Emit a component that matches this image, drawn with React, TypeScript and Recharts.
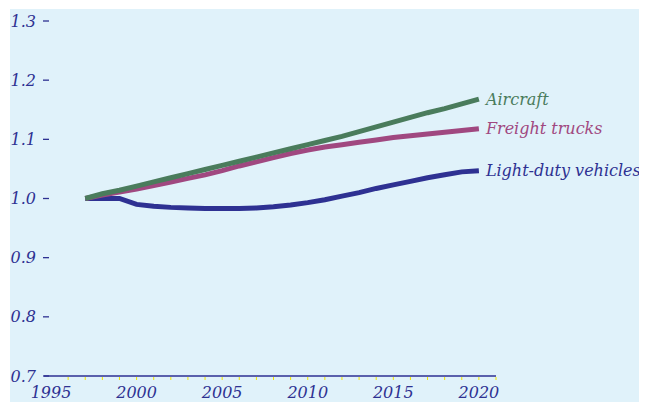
import { LineChart, Line, XAxis, YAxis } from "recharts";

const years = [
  1997, 1998, 1999, 2000, 2001, 2002, 2003, 2004, 2005, 2006, 2007, 2008,
  2009, 2010, 2011, 2012, 2013, 2014, 2015, 2016, 2017, 2018, 2019, 2020,
];

const aircraft = [
  1.0, 1.008, 1.014, 1.021, 1.028, 1.035, 1.042, 1.049, 1.056, 1.063, 1.07,
  1.077, 1.084, 1.091, 1.098, 1.105, 1.113, 1.121, 1.129, 1.137, 1.145, 1.152,
  1.16, 1.168,
];

const freightTrucks = [
  1.0, 1.006, 1.011, 1.016, 1.022, 1.028, 1.034, 1.04, 1.047, 1.055, 1.062,
  1.069, 1.076, 1.082, 1.087, 1.091, 1.095, 1.099, 1.103, 1.106, 1.109, 1.112,
  1.115, 1.118,
];

const lightDuty = [
  1.0, 1.0, 1.0, 0.99, 0.987, 0.985, 0.984, 0.983, 0.983, 0.983, 0.984, 0.986,
  0.989, 0.993, 0.998, 1.004, 1.01, 1.017, 1.023, 1.029, 1.035, 1.04, 1.045,
  1.047,
];

const yTicks = [0.7, 0.8, 0.9, 1.0, 1.1, 1.2, 1.3];
const xLabelYears = [1995, 2000, 2005, 2010, 2015, 2020];
const xTickYears = [
  1995, 1996, 1997, 1998, 1999, 2000, 2001, 2002, 2003, 2004, 2005, 2006, 2007,
  2008, 2009, 2010, 2011, 2012, 2013, 2014, 2015, 2016, 2017, 2018, 2019, 2020,
  2021,
];

const NAVY = "#2e3192";
const GREEN = "#4a7c5c";
const MAGENTA = "#a04880";
const FONT = "'DejaVu Serif', serif";
const FS = 16;

const data = years.map((year, i) => ({
  year,
  aircraft: aircraft[i],
  freight: freightTrucks[i],
  ldv: lightDuty[i],
}));

const YTick = ({ x, y, payload }: any) => (
  <g>
    <text
      x={x - 8}
      y={y}
      textAnchor="end"
      dominantBaseline="central"
      fill={NAVY}
      fontSize={FS}
      fontStyle="italic"
      fontFamily={FONT}
    >
      {payload.value.toFixed(1)}
    </text>
    <line x1={x - 1} x2={x + 5} y1={y} y2={y} stroke={NAVY} strokeWidth={1.3} />
  </g>
);

const XTick = ({ x, y, payload }: any) => {
  const yr = payload.value;
  return (
    <g>
      {yr >= 1996 && (
        <line x1={x} x2={x} y1={y + 1} y2={y + 4} stroke="#f2e600" strokeWidth={1} />
      )}
      {xLabelYears.includes(yr) && (
        <text
          x={x}
          y={y + 22}
          textAnchor="middle"
          fill={NAVY}
          fontSize={FS}
          fontStyle="italic"
          fontFamily={FONT}
        >
          {yr}
        </text>
      )}
    </g>
  );
};

const endLabel = (name: string, color: string) => (props: any) => {
  if (props.index !== data.length - 1) return <g />;
  return (
    <text
      x={props.x + 7}
      y={props.y}
      dominantBaseline="central"
      fill={color}
      fontSize={FS}
      fontStyle="italic"
      fontFamily={FONT}
    >
      {name}
    </text>
  );
};

export default function App() {
  return (
    <div
      style={{
        marginLeft: 2,
        marginTop: 1,
        width: 637,
        height: 393,
        background: "#e0f2fa",
        fontFamily: FONT,
      }}
    >
      <LineChart
        width={637}
        height={393}
        data={data}
        margin={{ top: 12, right: 151, bottom: 0, left: 0 }}
        style={{ overflow: "visible" }}
      >
        <XAxis
          dataKey="year"
          type="number"
          domain={[1994.59, 2021]}
          ticks={xTickYears}
          interval={0}
          tickLine={false}
          tickSize={0}
          tickMargin={0}
          axisLine={{ stroke: NAVY, strokeWidth: 1.5 }}
          tick={<XTick />}
          height={26}
          allowDataOverflow
        />
        <YAxis
          type="number"
          domain={[0.7, 1.3]}
          ticks={yTicks}
          interval={0}
          axisLine={false}
          tickLine={false}
          tickSize={0}
          tickMargin={0}
          tick={<YTick />}
          width={34}
        />
        <Line
          dataKey="ldv"
          stroke={NAVY}
          strokeWidth={5}
          dot={false}
          isAnimationActive={false}
          label={endLabel("Light-duty vehicles", NAVY)}
        />
        <Line
          dataKey="freight"
          stroke={MAGENTA}
          strokeWidth={5}
          dot={false}
          isAnimationActive={false}
          label={endLabel("Freight trucks", MAGENTA)}
        />
        <Line
          dataKey="aircraft"
          stroke={GREEN}
          strokeWidth={5}
          dot={false}
          isAnimationActive={false}
          label={endLabel("Aircraft", GREEN)}
        />
      </LineChart>
    </div>
  );
}
